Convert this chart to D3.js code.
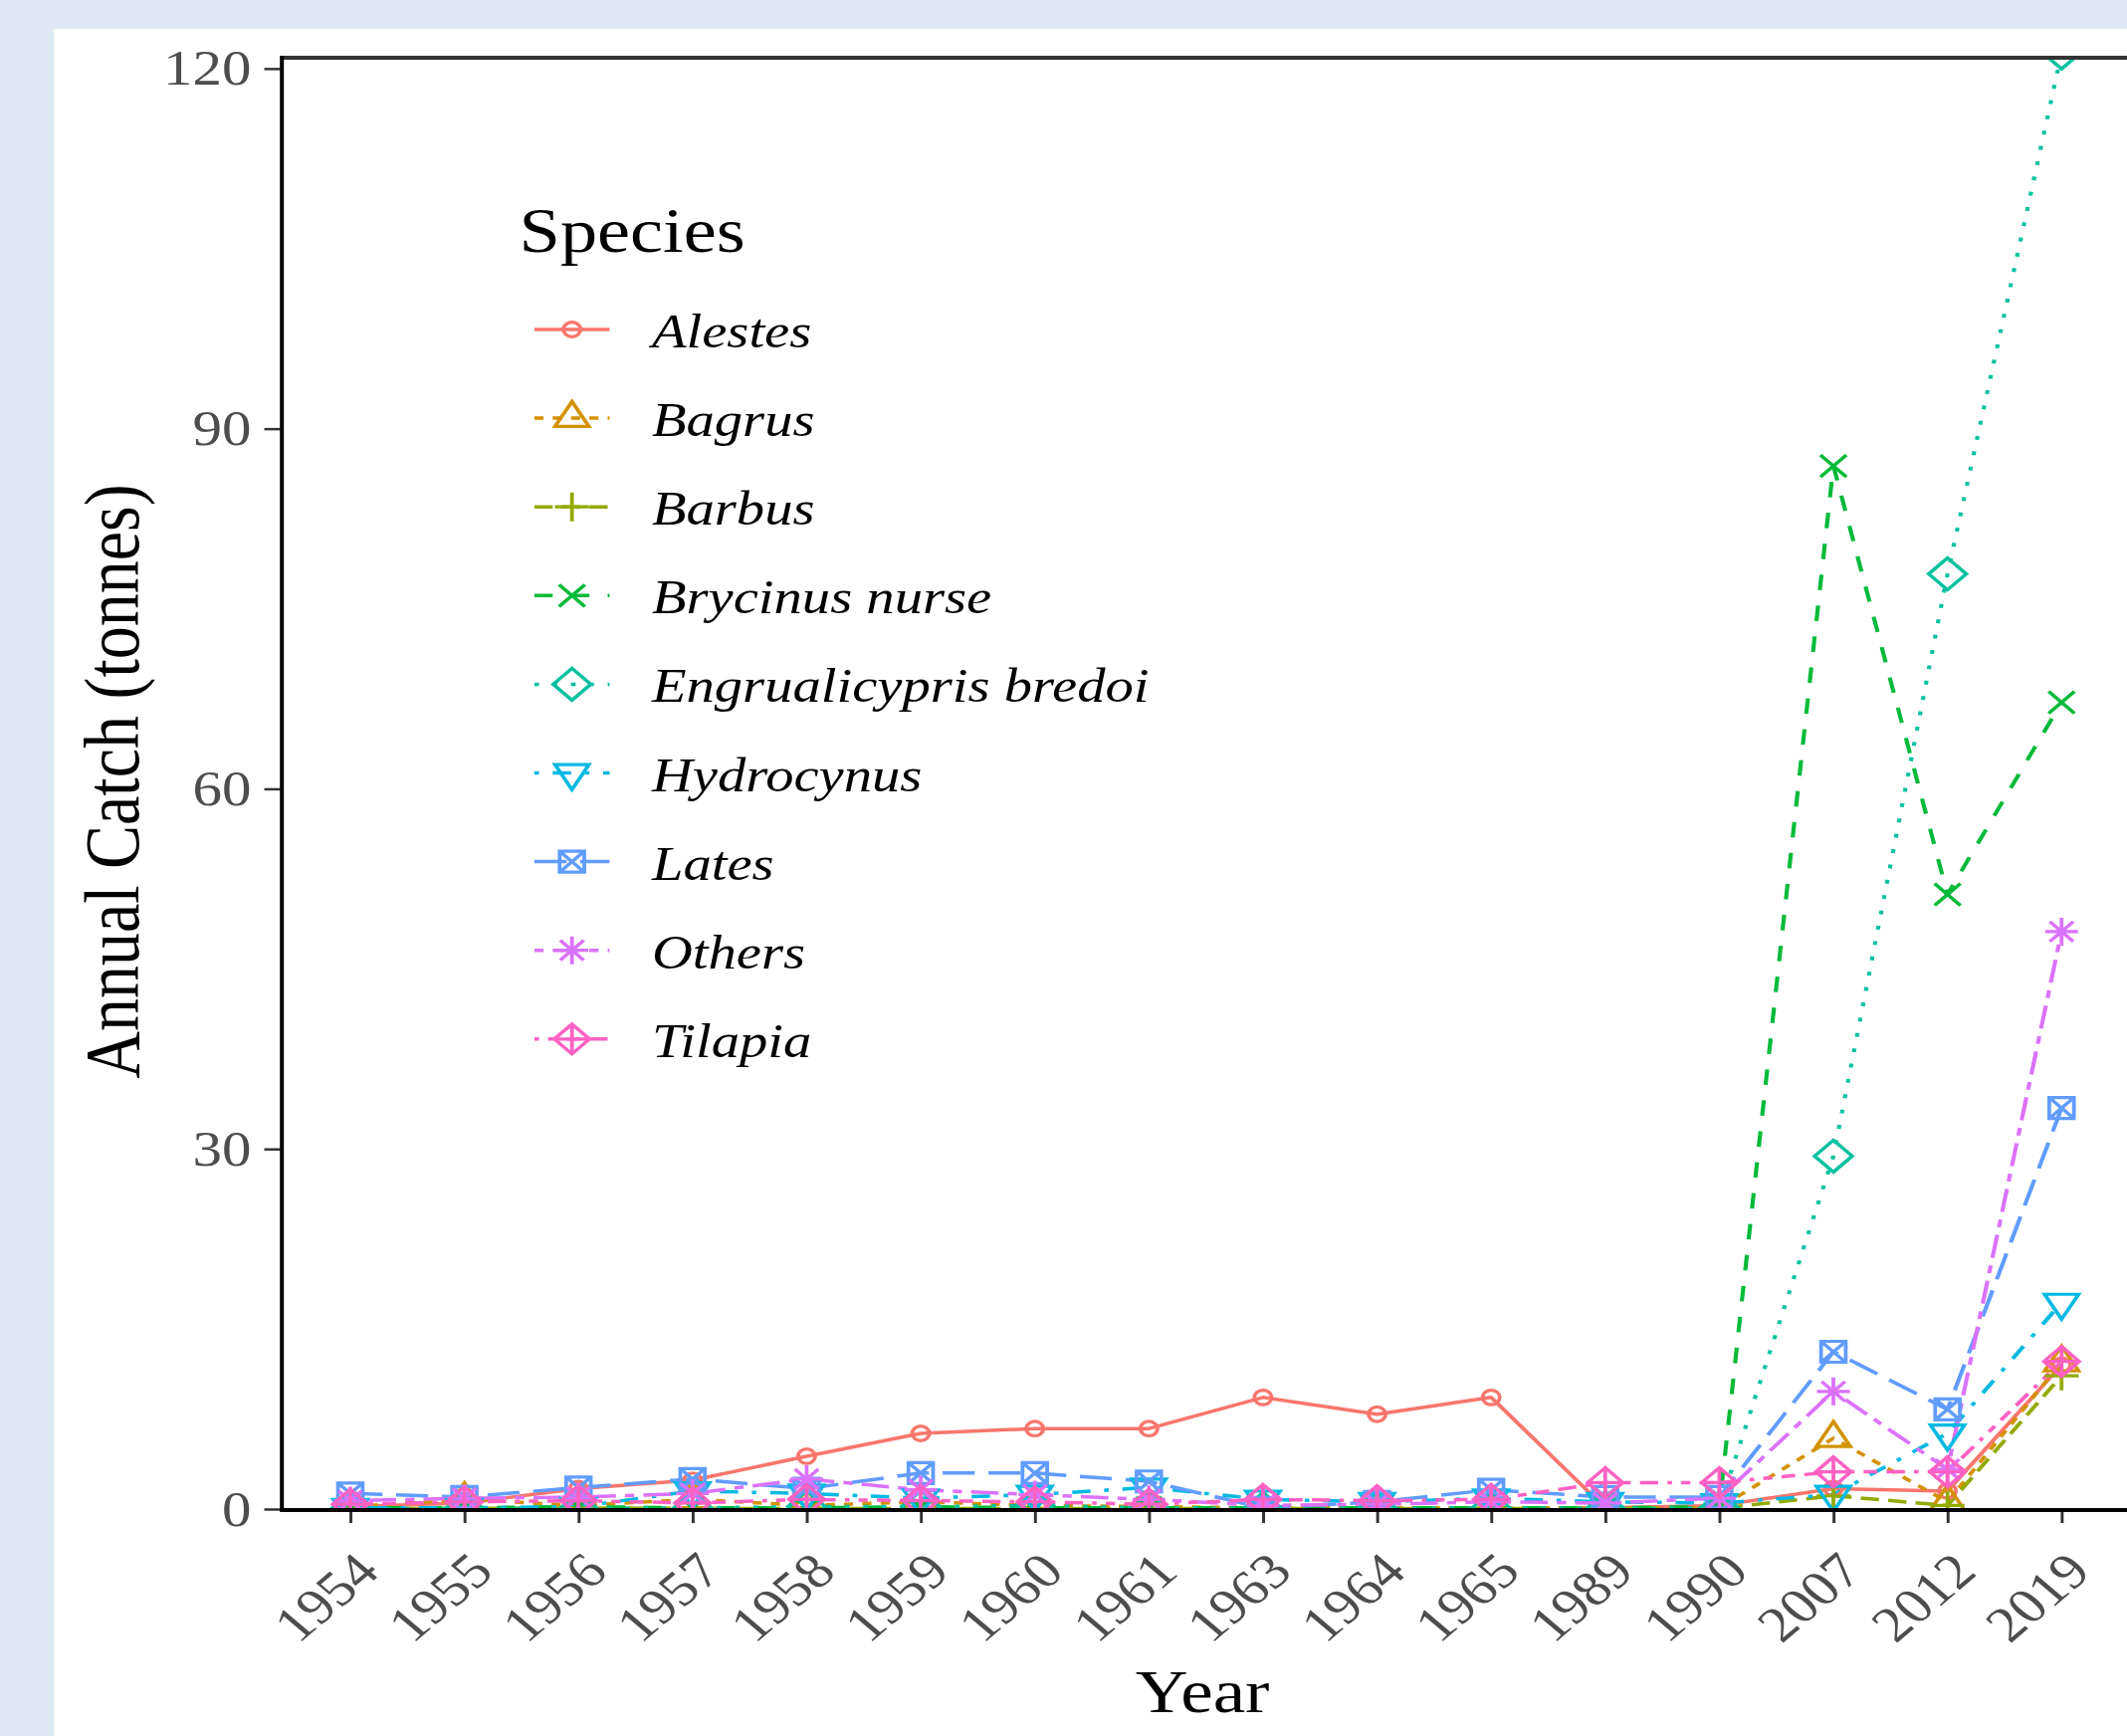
<!DOCTYPE html>
<html>
<head>
<meta charset="utf-8">
<script src="https://cdn.jsdelivr.net/npm/d3@7"></script>
<style>
  html, body { margin: 0; padding: 0; background: #dee9f5; }
  svg { display: block; }
  text { font-family: "Liberation Serif", "Times New Roman", serif; }
</style>
</head>
<body>
<svg id="chart" width="2137" height="1744"></svg>
<script>
// Data (tonnes per year)
const years = ['1954', '1955', '1956', '1957', '1958', '1959', '1960', '1961', '1963', '1964', '1965', '1989', '1990', '2007', '2012', '2019'];
const species = ['Alestes', 'Bagrus', 'Barbus', 'Brycinus nurse', 'Engrualicypris bredoi', 'Hydrocynus', 'Lates', 'Others', 'Tilapia'];

const alestes    = [0.2, 0.5, 1.7, 2.4, 4.4, 6.3, 6.7, 6.7, 9.3, 7.9, 9.3, 0.1, 0.3, 1.7, 1.5, 12.0];
const bagrus     = [0.2, 0.8, 0.3, 0.8, 0.3, 0.6, 0.3, 0.2, 0.1, 0.1, 0.1, 0.1, 0.1, 5.9, 0.6, 12.2];
const barbus     = [0.05, 0.05, 0.1, 0.05, 0.05, 0.05, 0.05, 0.05, 0.05, 0.05, 0.05, 0.05, 0.05, 1.1, 0.3, 11.1];
const brycinus   = [0.1, 0.1, 0.2, 0.1, 0.1, 0.2, 0.1, 0.1, 0.1, 0.1, 0.1, 0.1, 0.2, 86.9, 51.2, 67.2];
const engraulicypris = [0.05, 0.05, 0.05, 0.1, 0.2, 0.2, 0.3, 0.1, 0.05, 0.05, 0.1, 0.05, 0.1, 29.4, 77.9, 121.3];
const hydrocynus = [0.1, 0.1, 0.2, 1.5, 1.3, 0.9, 1.2, 1.8, 0.8, 0.6, 0.9, 0.6, 0.5, 1.2, 6.3, 17.2];
const lates      = [1.3, 1.0, 1.8, 2.5, 1.7, 3.0, 3.0, 2.3, 0.1, 0.6, 1.6, 1.0, 1.0, 13.1, 8.3, 33.4];
const others     = [0.7, 0.9, 1.0, 1.3, 2.5, 1.6, 1.2, 0.8, 0.3, 0.4, 0.6, 0.5, 0.9, 9.8, 3.3, 48.1];
const tilapia    = [0.4, 0.6, 0.7, 0.5, 0.8, 0.7, 0.6, 0.4, 0.8, 0.7, 0.8, 2.2, 2.2, 3.1, 3.1, 12.3];

const yTicks = [0, 30, 60, 90, 120];

// ggplot-ish styling per species
const colors = ['#F8766D', '#D39200', '#93AA00', '#00BA38', '#00C19F', '#00B9E3', '#619CFF', '#DB72FB', '#FF61C3'];
const linetypes = ['solid', '22', '42', '44', '13', '1343', '73', '2262', '12223242'];
const shapes = ['circle', 'triangle', 'plus', 'cross', 'diamond', 'triangleDown', 'squareCross', 'asterisk', 'diamondPlus'];

const seriesValues = [alestes, bagrus, barbus, brycinus, engraulicypris, hydrocynus, lates, others, tilapia];
const series = species.map((name, i) => ({
  name,
  color: colors[i],
  linetype: linetypes[i],
  shape: shapes[i],
  values: years.map((yr, j) => ({ year: yr, value: seriesValues[i][j] }))
}));

// the source image is stretched horizontally, so draw in narrow units and scale x
const stretch = 1.18;
const panel = { left: 240, right: 1813.6, top: 58, bottom: 1516 };
const dashUnit = 3.9;
const lineWidth = 3.5;

const svg = d3.select('#chart');
svg.append('rect').attr('width', 2137).attr('height', 1744).attr('fill', '#dee9f5');
svg.append('rect').attr('x', 54).attr('y', 29).attr('width', 2137 - 54).attr('height', 1744 - 29).attr('fill', '#ffffff');

const g = svg.append('g').attr('transform', `scale(${stretch},1)`);

const x = d3.scalePoint().domain(years).range([panel.left, panel.right]).padding(0.6);
const y = d3.scaleLinear().domain([0, 120.9]).range([panel.bottom, panel.top]);

g.append('clipPath').attr('id', 'panel-clip')
  .append('rect')
  .attr('x', panel.left).attr('y', panel.top)
  .attr('width', panel.right - panel.left).attr('height', panel.bottom - panel.top);

function dashArray(lt) {
  if (lt === 'solid') return null;
  return lt.split('').map((c) => parseInt(c, 16) * dashUnit).join(' ');
}

function markerPath(shape) {
  const p = d3.path();
  switch (shape) {
    case 'circle':
      p.arc(0, 0, 7.3, 0, 2 * Math.PI);
      break;
    case 'triangle':
      p.moveTo(0, -16.7); p.lineTo(14.46, 8.35); p.lineTo(-14.46, 8.35); p.closePath();
      break;
    case 'triangleDown':
      p.moveTo(0, 16.7); p.lineTo(14.46, -8.35); p.lineTo(-14.46, -8.35); p.closePath();
      break;
    case 'plus':
      p.moveTo(-14.5, 0); p.lineTo(14.5, 0); p.moveTo(0, -14.5); p.lineTo(0, 14.5);
      break;
    case 'cross':
      p.moveTo(-11, -11); p.lineTo(11, 11); p.moveTo(-11, 11); p.lineTo(11, -11);
      break;
    case 'diamond':
      p.moveTo(0, -16); p.lineTo(16, 0); p.lineTo(0, 16); p.lineTo(-16, 0); p.closePath();
      break;
    case 'squareCross':
      p.rect(-10.5, -10.5, 21, 21);
      p.moveTo(-10.5, -10.5); p.lineTo(10.5, 10.5); p.moveTo(-10.5, 10.5); p.lineTo(10.5, -10.5);
      break;
    case 'asterisk':
      p.moveTo(-14, 0); p.lineTo(14, 0); p.moveTo(0, -14); p.lineTo(0, 14);
      p.moveTo(-10, -10); p.lineTo(10, 10); p.moveTo(-10, 10); p.lineTo(10, -10);
      break;
    case 'diamondPlus':
      p.moveTo(0, -15); p.lineTo(15, 0); p.lineTo(0, 15); p.lineTo(-15, 0); p.closePath();
      p.moveTo(-15, 0); p.lineTo(15, 0); p.moveTo(0, -15); p.lineTo(0, 15);
      break;
  }
  return p.toString();
}

// Lines then points, clipped to the panel
const plotArea = g.append('g').attr('clip-path', 'url(#panel-clip)');
const line = d3.line().x((d) => x(d.year)).y((d) => y(d.value));

plotArea.selectAll('path.series')
  .data(series)
  .join('path')
  .attr('class', 'series')
  .attr('d', (s) => line(s.values))
  .attr('fill', 'none')
  .attr('stroke', (s) => s.color)
  .attr('stroke-width', lineWidth)
  .attr('stroke-dasharray', (s) => dashArray(s.linetype))
  .attr('stroke-linejoin', 'round');

series.forEach((s) => {
  plotArea.append('g').selectAll('path')
    .data(s.values)
    .join('path')
    .attr('transform', (d) => `translate(${x(d.year)},${y(d.value)})`)
    .attr('d', markerPath(s.shape))
    .attr('fill', 'none')
    .attr('stroke', s.color)
    .attr('stroke-width', 3.2);
});

// Axes
const yAxis = g.append('g')
  .attr('transform', `translate(${panel.left},0)`)
  .call(d3.axisLeft(y).tickValues(yTicks).tickSize(15).tickPadding(11));
yAxis.select('.domain').remove();
yAxis.selectAll('line').attr('stroke', '#333333').attr('stroke-width', 2.5);
yAxis.selectAll('text')
  .attr('fill', '#4D4D4D')
  .style('font-size', '50px')
  .style('font-family', '"Liberation Serif", serif');

const xAxis = g.append('g')
  .attr('transform', `translate(0,${panel.bottom})`)
  .call(d3.axisBottom(x).tickSize(14));
xAxis.select('.domain').remove();
xAxis.selectAll('line').attr('stroke', '#333333').attr('stroke-width', 2.5);
xAxis.selectAll('text')
  .attr('x', 0).attr('y', 0).attr('dy', '0.68em')
  .attr('text-anchor', 'end')
  .attr('transform', 'translate(2,41) rotate(-45)')
  .attr('fill', '#4D4D4D')
  .style('font-size', '50px')
  .style('font-family', '"Liberation Serif", serif');

// axis lines and top border
g.append('line')
  .attr('x1', panel.left).attr('x2', panel.right + 10)
  .attr('y1', panel.top).attr('y2', panel.top)
  .attr('stroke', '#333333').attr('stroke-width', 4);
g.append('line')
  .attr('x1', panel.left).attr('x2', panel.left)
  .attr('y1', panel.top - 2).attr('y2', panel.bottom + 2)
  .attr('stroke', '#000000').attr('stroke-width', 3.4);
g.append('line')
  .attr('x1', panel.left - 1.7).attr('x2', panel.right + 10)
  .attr('y1', panel.bottom + 1).attr('y2', panel.bottom + 1)
  .attr('stroke', '#000000').attr('stroke-width', 4);

// Axis titles
g.append('text')
  .attr('x', (panel.left + panel.right) / 2 - 3)
  .attr('y', 1720)
  .attr('text-anchor', 'middle')
  .style('font-size', '62px')
  .text('Year');

g.append('text')
  .attr('transform', `translate(118,${(panel.top + panel.bottom) / 2 - 2}) rotate(-90)`)
  .attr('text-anchor', 'middle')
  .style('font-size', '66px')
  .text('Annual Catch (tonnes)');

// Legend
const legend = g.append('g');
legend.append('text')
  .attr('x', 442).attr('y', 253)
  .style('font-size', '63px')
  .text('Species');

const rowY = (i) => 331 + 89.1 * i;
series.forEach((s, i) => {
  const row = legend.append('g').attr('transform', `translate(0,${rowY(i)})`);
  row.append('line')
    .attr('x1', 455).attr('x2', 519)
    .attr('y1', 0).attr('y2', 0)
    .attr('stroke', s.color)
    .attr('stroke-width', lineWidth)
    .attr('stroke-dasharray', dashArray(s.linetype));
  row.append('path')
    .attr('transform', 'translate(487,0)')
    .attr('d', markerPath(s.shape))
    .attr('fill', 'none')
    .attr('stroke', s.color)
    .attr('stroke-width', 3.2);
  row.append('text')
    .attr('x', 555).attr('y', 18)
    .style('font-size', '48px')
    .style('font-style', 'italic')
    .text(s.name);
});
</script>
</body>
</html>
